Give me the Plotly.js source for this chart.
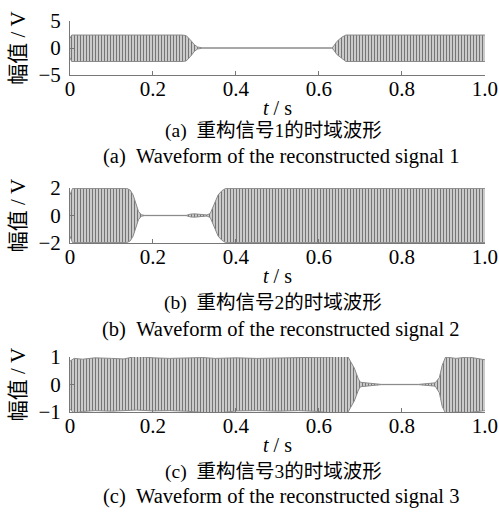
<!DOCTYPE html>
<html><head><meta charset="utf-8">
<script src="https://cdn.plot.ly/plotly-3.0.1.min.js"></script>
<style>html,body{margin:0;padding:0;background:#fff}</style>
</head><body><div id="chart" style="width:499px;height:512px"></div>
<script>
// Panel (a): envelope of reconstructed signal 1
const tA  = [0, 0.004, 0.27, 0.28, 0.29, 0.30, 0.307, 0.315, 0.32, 0.63, 0.634, 0.643, 0.655, 0.665, 1.0];
const upA = [1.8, 2.4, 2.4, 2.3, 1.5, 0.6, 0.2, 0.05, 0, 0, 0.2, 1.2, 2.0, 2.4, 2.4];
const loA = [-1.8, -2.5, -2.5, -2.4, -1.6, -0.6, -0.2, -0.05, 0, 0, -0.2, -1.2, -2.0, -2.5, -2.5];
// Panel (b)
const tB  = [0, 0.006, 0.137, 0.145, 0.152, 0.158, 0.165, 0.172, 0.18, 0.28, 0.29, 0.30, 0.31, 0.315, 0.33, 0.338, 0.343, 0.349, 0.357, 0.366, 0.375, 1.0];
const upB = [1.5, 1.97, 1.97, 1.85, 1.5, 0.9, 0.3, 0.05, 0.01, 0.01, 0.1, 0.12, 0.1, 0.04, 0.04, 0.15, 0.5, 1.0, 1.5, 1.8, 1.97, 1.97];
const loB = [-1.5, -1.97, -1.97, -1.85, -1.5, -0.9, -0.3, -0.05, -0.01, -0.01, -0.1, -0.12, -0.1, -0.04, -0.04, -0.15, -0.5, -1.0, -1.5, -1.8, -1.97, -1.97];
// Panel (c)
const tC  = [0, 0.01, 0.03, 0.06, 0.1, 0.13, 0.16, 0.2, 0.24, 0.28, 0.32, 0.35, 0.4, 0.45, 0.5, 0.55, 0.6, 0.63, 0.65, 0.67, 0.685, 0.695, 0.70, 0.72, 0.75, 0.84, 0.87, 0.88, 0.89, 0.897, 0.905, 0.93, 0.96, 1.0];
const upC = [0.85, 0.95, 0.92, 0.97, 0.95, 0.93, 1.03, 0.97, 0.95, 0.96, 0.98, 0.95, 0.97, 0.95, 0.96, 0.98, 0.97, 1.0, 1.05, 1.0, 0.6, 0.2, 0.08, 0.05, 0.005, 0.005, 0.05, 0.06, 0.25, 0.7, 1.0, 0.95, 1.0, 0.9];
const loC = [-0.9, -1.05, -0.98, -0.95, -0.97, -0.95, -0.93, -0.96, -0.95, -0.97, -1.0, -1.05, -0.96, -0.95, -0.97, -0.95, -0.98, -1.05, -1.08, -1.0, -0.6, -0.2, -0.08, -0.05, -0.005, -0.005, -0.05, -0.06, -0.3, -0.8, -1.05, -1.0, -1.02, -0.95];

const xTicks = [0, 0.2, 0.4, 0.6, 0.8, 1.0];
const xTickText = ['0', '0.2', '0.4', '0.6', '0.8', '1.0'];
const yTicksA = [-5, 0, 5];   const yTextA = ['\u22125', '0', '5'];
const yTicksB = [-2, 0, 2];   const yTextB = ['\u22122', '0', '2'];
const yTicksC = [-1, 0, 1];   const yTextC = ['\u22121', '0', '1'];
const captionsCN = ['(a)\u00a0\u00a0重构信号1的时域波形', '(b)\u00a0\u00a0重构信号2的时域波形', '(c)\u00a0\u00a0重构信号3的时域波形'];
const captionsEN = ['(a)\u00a0\u00a0Waveform of the reconstructed signal 1', '(b)\u00a0\u00a0Waveform of the reconstructed signal 2', '(c)\u00a0\u00a0Waveform of the reconstructed signal 3'];

const FONT = 'Liberation Serif, Noto Sans CJK SC, serif';
const lineCol = '#8a8a8a';
function pair(t, up, lo, xa, ya) {
  return [
    {x: t, y: up, xaxis: xa, yaxis: ya, type: 'scatter', mode: 'lines',
     line: {color: lineCol, width: 1}, hoverinfo: 'skip', showlegend: false},
    {x: t, y: lo, xaxis: xa, yaxis: ya, type: 'scatter', mode: 'lines',
     line: {color: lineCol, width: 1}, fill: 'tonexty', fillcolor: '#cbcbcb',
     fillpattern: {shape: '|', size: 3, solidity: 0.3, fgcolor: '#6a6a6a', bgcolor: '#cbcbcb'},
     hoverinfo: 'skip', showlegend: false}
  ];
}
const data = [].concat(
  pair(tA, upA, loA, 'x', 'y'),
  pair(tB, upB, loB, 'x2', 'y2'),
  pair(tC, upC, loC, 'x3', 'y3')
);

const xDom = [0.1403, 0.9719];
function xax(anchor) {
  return {domain: xDom, anchor: anchor, range: [0, 1], tickvals: xTicks, ticktext: xTickText,
    ticks: 'inside', ticklen: 4, tickcolor: '#777', showline: true, linecolor: '#777', linewidth: 1,
    showgrid: false, zeroline: false, ticklabelstandoff: -5,
    tickfont: {family: FONT, size: 21, color: '#000'},
    title: {text: '<i>t</i> / s', font: {family: FONT, size: 20, color: '#000'}, standoff: 0}};
}
function yax(anchor, dom, rng, tv, tt) {
  return {domain: dom, anchor: anchor, range: rng, tickvals: tv, ticktext: tt,
    ticks: 'inside', ticklen: 4, tickcolor: '#777', showline: true, linecolor: '#777', linewidth: 1,
    showgrid: false, zeroline: false, ticklabelstandoff: 4,
    tickfont: {family: FONT, size: 21, color: '#000'},
    title: {text: '幅值 / V', font: {family: FONT, size: 21, color: '#000'}, standoff: 7}};
}
const capY = [[0.7432, 0.6953], [0.4082, 0.3555], [0.0781, 0.0293]];
const annotations = [];
for (let i = 0; i < 3; i++) {
  annotations.push({xref: 'paper', yref: 'paper', x: 0.548, y: capY[i][0], xanchor: 'center', yanchor: 'middle',
    showarrow: false, text: captionsCN[i], font: {family: FONT, size: 19.5, color: '#000'}});
  annotations.push({xref: 'paper', yref: 'paper', x: 0.563, y: capY[i][1], xanchor: 'center', yanchor: 'middle',
    showarrow: false, text: captionsEN[i], font: {family: FONT, size: 20.5, color: '#000'}});
}
const layout = {
  width: 499, height: 512, margin: {l: 0, r: 0, t: 0, b: 0},
  paper_bgcolor: '#fff', plot_bgcolor: '#fff', showlegend: false,
  xaxis: xax('y'), xaxis2: xax('y2'), xaxis3: xax('y3'),
  yaxis: yax('x', [0.8535, 0.9590], [-5, 5], yTicksA, yTextA),
  yaxis2: yax('x2', [0.5254, 0.6328], [-2, 2], yTicksB, yTextB),
  yaxis3: yax('x3', [0.1953, 0.3027], [-1, 1], yTicksC, yTextC),
  annotations: annotations
};
Plotly.newPlot('chart', data, layout, {displayModeBar: false, staticPlot: true});
</script></body></html>
